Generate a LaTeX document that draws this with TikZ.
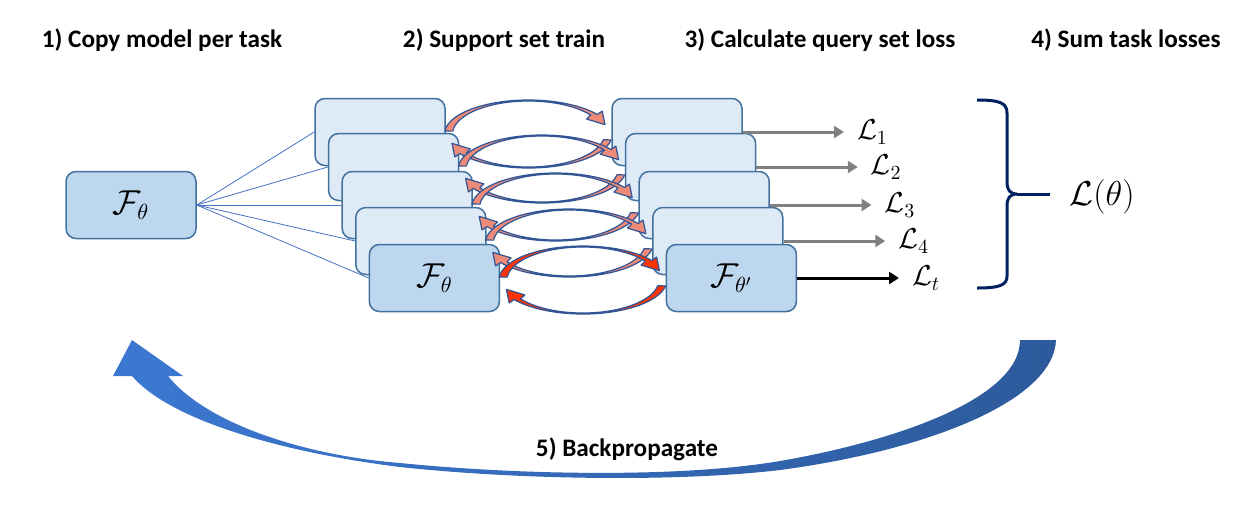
\documentclass[tikz,border=0pt]{standalone}
\usepackage{fontspec}
\setmainfont{Carlito}
\usetikzlibrary{arrows.meta}
\definecolor{boxline}{HTML}{41719C}
\definecolor{boxfront}{HTML}{BDD7EE}
\definecolor{boxback}{HTML}{DEEBF7}
\definecolor{fanline}{HTML}{4472C4}
\definecolor{loopline}{HTML}{2F5597}
\definecolor{loopback}{HTML}{EE8A78}
\definecolor{loopfront}{HTML}{FF3300}
\definecolor{lossgray}{HTML}{808080}
\definecolor{bracecol}{HTML}{002060}
\definecolor{bpleft}{HTML}{3C78D2}
\definecolor{bpright}{HTML}{2D5A9B}
\begin{document}
\begin{tikzpicture}[x=0.5pt,y=-0.5pt,
    model/.style={draw=boxline,line width=0.75pt,rounded corners=5pt,
      minimum width=65pt,minimum height=33.5pt,inner sep=0pt,font=\fontsize{16}{19}\selectfont},
    title/.style={font=\fontsize{12.6}{15}\selectfont\bfseries},
    lossarrow/.style={-{Triangle[length=5pt,width=6pt]},line width=1.5pt,shorten >=3pt},
    fan/.style={draw=fanline,line width=0.4pt},
    band/.style={draw=loopline,line width=0.6pt,line join=round}]
  \useasboundingbox (0,0) rectangle (1258,527);

  % step titles
  \node[title] (stepone)   at (162,40)  {1) Copy model per task};
  \node[title] (steptwo)   at (504,40)  {2) Support set train};
  \node[title] (stepthree) at (820,40)  {3) Calculate query set loss};
  \node[title] (stepfour)  at (1126,40) {4) Sum task losses};

  % meta model
  \node[model,fill=boxfront] (meta) at (131,205) {$\mathcal{F}_\theta$};

  % task copies, back to front
  \foreach \i/\y in {0/132,1/167,2/205,3/241}
  {
    \pgfmathsetmacro{\xl}{380+13.6*\i};
    \pgfmathsetmacro{\xr}{677+13.6*\i};
    \node[model,fill=boxback] (copy\i) at (\xl,\y) {};
    \node[model,fill=boxback] (adapt\i) at (\xr,\y) {};
  }
  \node[model,fill=boxfront] (copy4) at (434.4,278) {$\mathcal{F}_\theta$};
  \node[model,fill=boxfront] (adapt4) at (731.4,278) {$\mathcal{F}_{\theta'}$};

  \foreach \i in {0,...,4}
    \draw[fan] (meta.east) -- (copy\i.west);

  % query losses
  \foreach \i/\y/\lab/\col in {0/132/1/lossgray,1/167/2/lossgray,2/205/3/lossgray,3/241/4/lossgray,4/278/t/black}
  {
    \pgfmathsetmacro{\xe}{850+13.75*\i};
    \node[anchor=west,font=\fontsize{14}{17}\selectfont] (loss\i) at (\xe,\y) {$\mathcal{L}_{\lab}$};
    \draw[lossarrow,color=\col] (adapt\i.east) -- (loss\i.west);
  }

  % support set loops
  \foreach \i/\y/\fillc in {0/132/loopback,1/167/loopback,2/205/loopback,3/241/loopback,4/278/loopfront}
  {
    \pgfmathsetmacro{\cx}{528.5+13.6*\i};
    \begin{scope}[shift={(\cx,\y+2)}]
      \filldraw[band,fill=\fillc] (185:84 and 34)
        arc[start angle=185,end angle=325,x radius=84,y radius=34]
        -- (325:90 and 40) -- (343:80 and 32) -- (325:71 and 26) -- (325:76 and 33)
        arc[start angle=325,end angle=185,x radius=76,y radius=33] -- cycle;
      \filldraw[band,fill=\fillc] (10:84 and 34)
        arc[start angle=10,end angle=145,x radius=84,y radius=34]
        -- (145:90 and 40) -- (163:80 and 32) -- (145:71 and 26) -- (145:76 and 33)
        arc[start angle=145,end angle=10,x radius=76,y radius=33] -- cycle;
    \end{scope}
  }

  % sum of task losses
  \coordinate (tip) at (1017,194);
  \draw[bracecol,line width=1.5pt] (977,100) .. controls (1000,100) and (1007,103) .. (1007,113)
    -- (1007,182) .. controls (1007,190) and (1010,194) .. (tip)
    .. controls (1010,194) and (1007,198) .. (1007,206)
    -- (1007,276) .. controls (1007,285) and (1000,288) .. (977,288);
  \draw[bracecol,line width=1.5pt] (tip) -- ++(33,0);
  \node[font=\fontsize{16}{19}\selectfont] (total) at (1102,197) {$\mathcal{L}(\theta)$};

  % backpropagation
  \shade[left color=bpleft,right color=bpright] (113,376) -- (132,340) -- (183,376) -- (168,376)
    .. controls (205,422) and (300,455) .. (400,463)
    .. controls (520,475) and (680,478) .. (780,461)
    .. controls (890,442) and (1020,400) .. (1020,340)
    -- (1056,340)
    .. controls (1054,400) and (930,450) .. (780,470)
    .. controls (680,482) and (520,480) .. (400,467)
    .. controls (280,452) and (170,420) .. (132,376) -- cycle;
  \node[title] (stepfive) at (627,449) {5) Backpropagate};
\end{tikzpicture}
\end{document}
